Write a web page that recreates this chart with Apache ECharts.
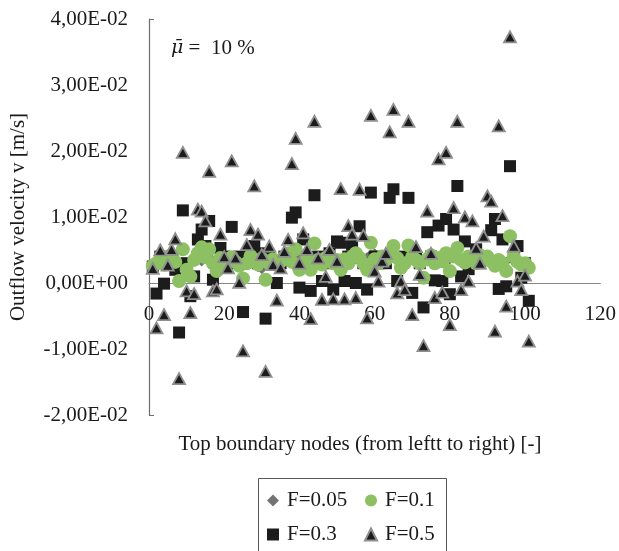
<!DOCTYPE html>
<html>
<head>
<meta charset="utf-8">
<script src="https://cdn.jsdelivr.net/npm/echarts@6/dist/echarts.min.js"></script>
<style>html,body{margin:0;padding:0;background:#fff}#c{width:619px;height:551px}</style>
</head>
<body>
<div id="c"></div>
<script>
// ---- data ----
const seriesNames = ['F=0.05', 'F=0.1', 'F=0.3', 'F=0.5'];
const yTickLabels = ['-2,00E-02', '-1,00E-02', '0,00E+00', '1,00E-02', '2,00E-02', '3,00E-02', '4,00E-02'];
const xTickLabels = ['0', '20', '40', '60', '80', '100', '120'];

const f005 = [
 0.0030,0.0032,0.0035,0.0030,0.0028,0.0034,0.0038,0.0033,0.0024,0.0030,
 0.0035,0.0040,0.0036,0.0032,0.0038,0.0041,0.0035,0.0030,0.0033,0.0036,
 0.0040,0.0037,0.0033,0.0030,0.0028,0.0034,0.0038,0.0036,0.0023,0.0020,
 0.0030,0.0035,0.0033,0.0037,0.0040,0.0036,0.0032,0.0030,0.0035,0.0038,
 0.0034,0.0030,0.0033,0.0037,0.0040,0.0036,0.0032,0.0035,0.0038,0.0034,
 0.0030,0.0036,0.0041,0.0038,0.0035,0.0033,0.0037,0.0040,0.0044,0.0046,
 0.0042,0.0038,0.0035,0.0040,0.0043,0.0039,0.0036,0.0033,0.0037,0.0040,
 0.0036,0.0032,0.0030,0.0034,0.0037,0.0035,0.0033,0.0031,0.0033,0.0035,
 0.0038,0.0034,0.0030,0.0033,0.0036,0.0038,0.0035,0.0032,0.0030,0.0034,
 0.0037,0.0035,0.0032,0.0030,0.0033,0.0036,0.0034,0.0031,0.0030,0.0032,
 0.0030];

const f01 = [
 0.0026,0.0030,0.0035,0.0028,0.0040,0.0042,0.0032,0.0003,0.0051,0.0020,
 0.0010,0.0035,0.0045,0.0054,0.0039,0.0051,0.0030,0.0018,0.0038,0.0030,
 0.0035,0.0039,0.0032,0.0026,0.0007,0.0030,0.0041,0.0035,0.0028,0.0037,
 0.0005,0.0030,0.0036,0.0028,0.0033,0.0040,0.0045,0.0032,0.0051,0.0020,
 0.0030,0.0038,0.0020,0.0060,0.0035,0.0028,0.0038,0.0042,0.0030,0.0035,
 0.0020,0.0036,0.0030,0.0040,0.0045,0.0038,0.0030,0.0020,0.0061,0.0036,
 0.0030,0.0040,0.0035,0.0042,0.0056,0.0038,0.0023,0.0030,0.0057,0.0040,
 0.0035,0.0030,0.0008,0.0036,0.0042,0.0030,0.0038,0.0033,0.0045,0.0018,
 0.0040,0.0053,0.0035,0.0031,0.0040,0.0038,0.0030,0.0042,0.0036,0.0040,
 0.0033,0.0026,0.0035,0.0030,0.0018,0.0071,0.0040,0.0032,0.0028,0.0030,
 0.0023];

const f03 = [
 0.0025,-0.0016,0.0040,-0.0001,0.0030,0.0035,0.0020,-0.0075,0.0110,0.0030,
 -0.0020,0.0010,0.0066,0.0081,0.0056,0.0094,0.0005,0.0030,0.0053,0.0040,
 0.0035,0.0085,0.0030,0.0040,-0.0044,0.0035,0.0040,0.0056,0.0030,0.0045,
 -0.0054,0.0040,0.0030,0.0000,0.0030,0.0040,0.0035,0.0099,0.0107,-0.0007,
 0.0066,0.0030,-0.0012,0.0133,0.0040,0.0003,0.0030,0.0045,-0.0010,0.0063,
 0.0061,0.0003,0.0040,0.0058,0.0000,0.0086,0.0030,-0.0010,0.0137,0.0040,
 0.0030,0.0035,0.0030,0.0129,0.0142,0.0003,0.0030,0.0040,0.0129,-0.0015,
 0.0040,0.0030,-0.0037,0.0077,0.0040,0.0004,0.0087,0.0003,0.0097,-0.0017,
 0.0081,0.0147,0.0010,0.0063,0.0021,0.0040,0.0051,0.0030,0.0040,0.0035,
 0.0080,0.0097,-0.0009,0.0066,-0.0005,0.0177,0.0040,0.0056,0.0008,0.0030,
 -0.0027];

const f05 = [
 0.0022,-0.0068,0.0050,-0.0048,0.0027,0.0051,0.0067,-0.0145,0.0198,-0.0012,
 -0.0045,-0.0016,0.0112,0.0109,0.0094,0.0169,-0.0012,-0.0009,0.0074,0.0040,
 0.0023,0.0185,0.0038,0.0001,-0.0103,0.0058,0.0081,0.0147,0.0074,0.0043,
 -0.0134,0.0056,0.0028,-0.0026,0.0023,0.0048,0.0066,0.0181,0.0219,0.0030,
 0.0076,0.0051,-0.0054,0.0245,0.0038,-0.0025,0.0010,0.0051,-0.0024,0.0033,
 0.0143,-0.0024,0.0087,0.0074,-0.0022,0.0142,0.0072,-0.0053,0.0254,0.0018,
 0.0003,0.0033,0.0045,0.0229,0.0263,-0.0015,0.0003,-0.0010,0.0245,-0.0048,
 0.0055,0.0013,-0.0095,0.0109,0.0045,-0.0022,0.0188,-0.0014,0.0198,-0.0063,
 0.0114,0.0245,-0.0010,0.0100,0.0003,0.0094,0.0053,0.0030,0.0071,0.0132,
 0.0124,-0.0073,0.0238,0.0102,-0.0035,0.0373,0.0056,0.0003,-0.0010,0.0012,
 -0.0088];

// node numbers along the top boundary (1..101)
const nodes = f05.map((_, i) => i + 1);
const pairs = arr => arr.map((v, i) => [nodes[i], v]);

const FONT = 'Liberation Serif';
const FS = 21;
const TXT = '#1a1a1a';
const GRID_H = 396, Y_MIN = -0.02, Y_MAX = 0.04;

const chart = echarts.init(document.getElementById('c'));
chart.setOption({
  animation: false,
  backgroundColor: '#fff',
  textStyle: { fontFamily: FONT },
  grid: { left: 148, top: 19, width: 454, height: GRID_H },
  title: [
    {
      text: '{i|μ̄}{n| =  10 %}',
      left: 166, top: 33,
      textStyle: { fontWeight: 'normal', rich: {
        i: { fontFamily: 'DejaVu Serif', fontSize: 19, fontStyle: 'italic', fontWeight: 'normal', color: TXT },
        n: { fontFamily: FONT, fontSize: FS, fontWeight: 'normal', color: TXT }
      } }
    },
    {
      text: 'Top boundary nodes (from leftt to right) [-]',
      left: 355, top: 429, textAlign: 'center',
      textStyle: { fontFamily: FONT, fontSize: FS, fontWeight: 'normal', color: TXT }
    }
  ],
  xAxis: {
    type: 'value', min: 0, max: 120, interval: 20,
    // axis sits on v = 0
    offset: -GRID_H * (0 - Y_MIN) / (Y_MAX - Y_MIN),
    axisLine: { show: true, onZero: false, lineStyle: { color: '#868686', width: 1.2 } },
    axisTick: { show: false },
    splitLine: { show: false },
    axisLabel: { margin: 21, fontFamily: FONT, fontSize: FS, color: TXT,
      formatter: (v) => xTickLabels[Math.round(v / 20)] }
  },
  yAxis: {
    type: 'value', min: Y_MIN, max: Y_MAX, interval: 0.01,
    name: 'Outflow velocity v [m/s]', nameLocation: 'middle', nameGap: 120,
    nameTextStyle: { fontFamily: FONT, fontSize: FS, color: TXT },
    axisLine: { show: true, lineStyle: { color: '#6e6e6e', width: 1.2 } },
    axisTick: { show: true, inside: true, length: 5, customValues: [Y_MIN, Y_MAX], lineStyle: { color: '#6e6e6e' } },
    splitLine: { show: false },
    axisLabel: { margin: 21, fontFamily: FONT, fontSize: FS, color: TXT,
      formatter: (v) => yTickLabels[Math.round((v - Y_MIN) / 0.01)] }
  },
  legend: [
    {
      data: ['F=0.05', 'F=0.3'], orient: 'vertical', left: 267, top: 490, padding: 0,
      itemWidth: 12, itemHeight: 12, itemGap: 13,
      textStyle: { fontFamily: FONT, fontSize: FS, color: TXT, lineHeight: 21, padding: [0, 0, 0, 3] }
    },
    {
      data: ['F=0.1', 'F=0.5'], orient: 'vertical', left: 364, top: 490, padding: 0,
      itemWidth: 12, itemHeight: 12, itemGap: 13,
      textStyle: { fontFamily: FONT, fontSize: FS, color: TXT, lineHeight: 21, padding: [0, 0, 0, 3] }
    }
  ],
  graphic: [
    { type: 'rect', left: 256, top: 476, shape: { width: 188, height: 90 },
      style: { fill: 'none', stroke: '#595959', lineWidth: 1 }, silent: true }
  ],
  series: [
    { name: seriesNames[0], type: 'scatter', z: 2, data: pairs(f005),
      symbol: 'diamond', symbolSize: 9, itemStyle: { color: '#737373', opacity: 1 } },
    { name: seriesNames[2], type: 'scatter', z: 3, data: pairs(f03),
      symbol: 'rect', symbolSize: 12, itemStyle: { color: '#1c1c1c', opacity: 1 } },
    { name: seriesNames[1], type: 'scatter', z: 4, data: pairs(f01),
      symbol: 'circle', symbolSize: 14, itemStyle: { color: '#8cc063', opacity: 1 } },
    { name: seriesNames[3], type: 'scatter', z: 5, data: pairs(f05),
      symbol: 'triangle', symbolSize: [12, 11], itemStyle: { color: '#1c1c1c', borderColor: '#8f8f8f', borderWidth: 1.8, opacity: 1 } }
  ]
});
</script>
</body>
</html>
